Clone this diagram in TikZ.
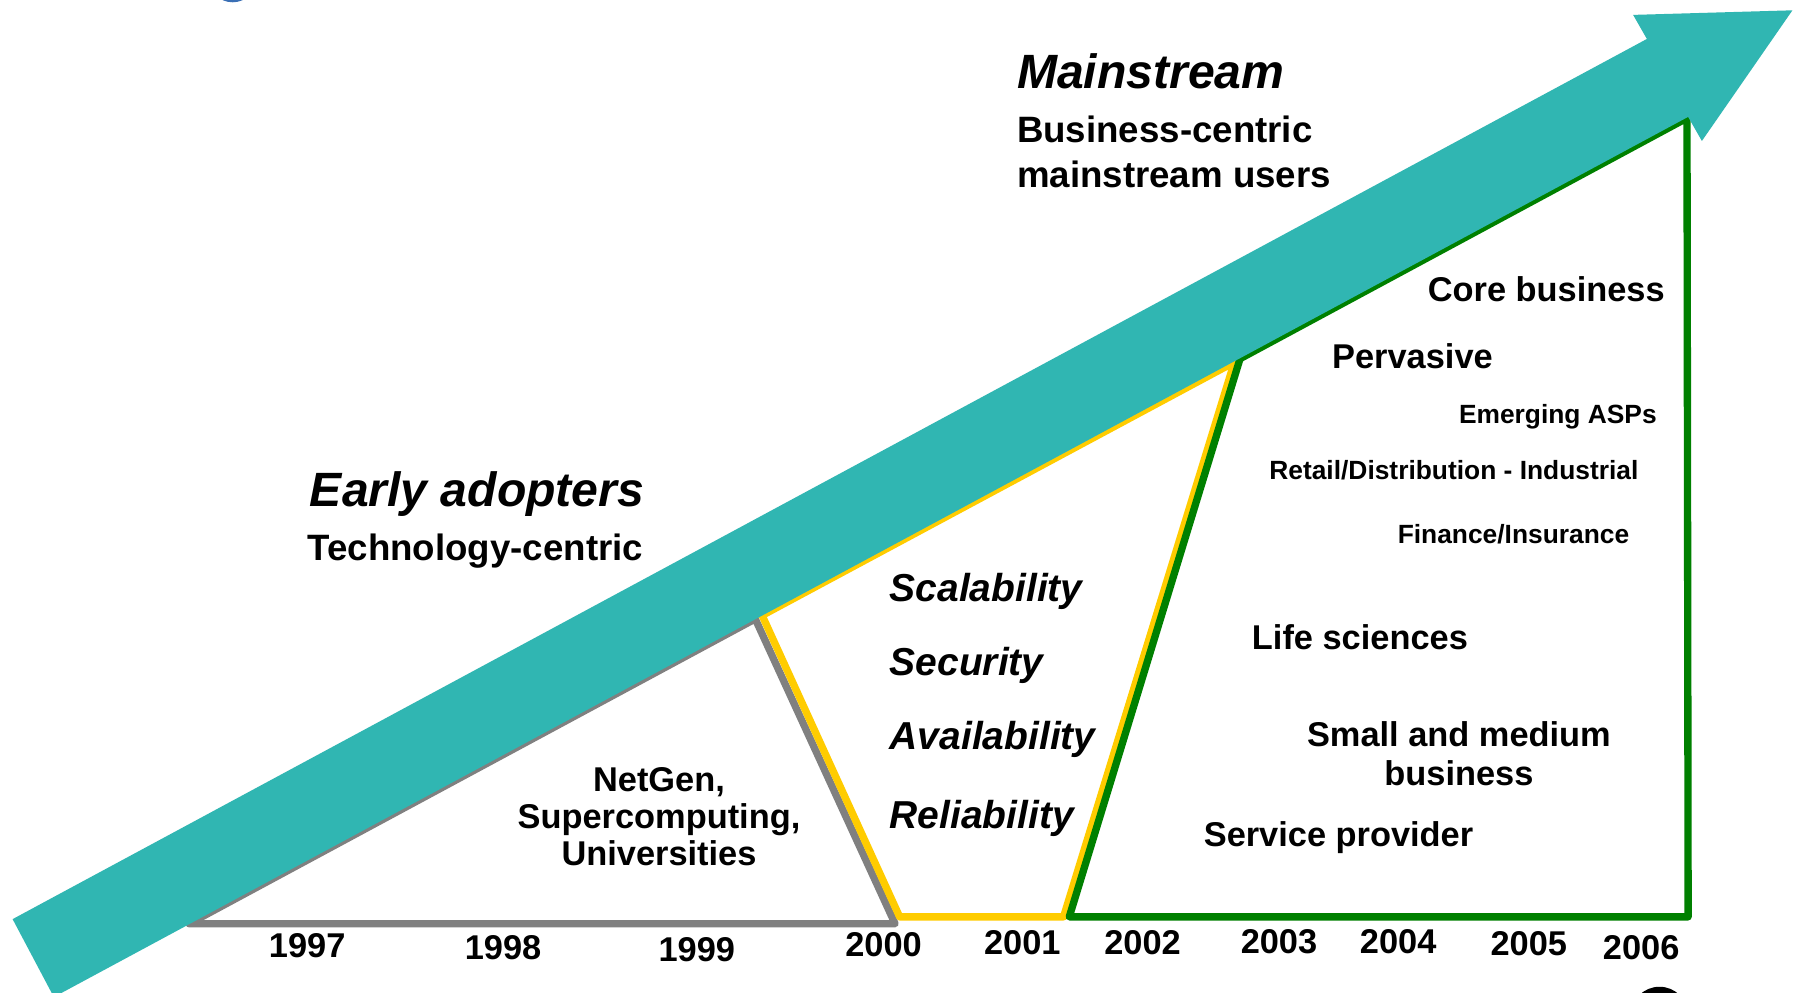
\documentclass[tikz,border=0pt]{standalone}
\usepackage{fontspec}
\setmainfont{Liberation Sans}
\definecolor{arrowteal}{HTML}{30B6B2}
\definecolor{eragray}{HTML}{808080}
\definecolor{erayellow}{HTML}{FFCC00}
\definecolor{eragreen}{HTML}{008000}
\definecolor{dotblue}{HTML}{3A6FB5}
\begin{document}
\begin{tikzpicture}[x=0.5pt,y=-0.5pt,
  txt/.style={inner sep=0pt, text depth=0pt, text=black},
  big/.style={txt, text height=15.1pt, font=\bfseries\itshape\fontsize{21}{25}\selectfont},
  mid/.style={txt, text height=11.5pt, font=\bfseries\fontsize{16}{19}\selectfont},
  reg/.style={txt, text height=10.8pt, font=\bfseries\fontsize{15}{18}\selectfont},
  sml/.style={txt, text height=8.3pt, font=\bfseries\fontsize{11.5}{14}\selectfont},
  qual/.style={txt, text height=12.2pt, font=\bfseries\itshape\fontsize{17}{20}\selectfont},
  yr/.style={txt, text height=10.8pt, font=\bfseries\fontsize{15}{18}\selectfont},
  era/.style={line width=3.2pt, line join=round, line cap=round}]
\useasboundingbox (0,0) rectangle (1568,866);
\fill[white] (0,0) rectangle (1568,866);
\begin{scope}
\clip (0,0) rectangle (1568,866);
% era outlines
\coordinate (g1) at (165,806);
\coordinate (g2) at (659,540);
\coordinate (g3) at (781,806);
\coordinate (y1) at (665,537);
\coordinate (y2) at (1077,316);
\coordinate (y3) at (928,800);
\coordinate (y4) at (785,800);
\coordinate (n1) at (933,800);
\coordinate (n2) at (1082,313);
\coordinate (n3) at (1472,103);
\coordinate (n4) at (1473,800);
\draw[era, draw=eragray] (g1) -- (g2) -- (g3) -- cycle;
\draw[era, draw=erayellow] (y1) -- (y2) -- (y3) -- (y4) -- cycle;
\draw[era, draw=eragreen] (n1) -- (n2) -- (n3) -- (n4) -- cycle;
% big arrow
\coordinate (a1) at (11,802);
\coordinate (a2) at (1437,34);
\coordinate (a3) at (1425,13);
\coordinate (a4) at (1564,9);
\coordinate (a5) at (1485,123);
\coordinate (a6) at (1473,102);
\coordinate (a7) at (47,870);
\fill[arrowteal] (a1) -- (a2) -- (a3) -- (a4) -- (a5) -- (a6) -- (a7) -- cycle;
% cut-off marks at the borders
\fill[dotblue] (203,-19) circle[radius=10.5pt];
\fill[black] (1448,886) circle[radius=12.5pt];
\end{scope}
% texts
\node[big, anchor=west] (mainstream) at (887,62) {Mainstream};
\node[mid, anchor=west] (bc1) at (887,113) {Business-centric};
\node[mid, anchor=west] (bc2) at (887,152) {mainstream users};
\node[big, anchor=west] (early) at (270,427) {Early adopters};
\node[mid, anchor=west] (tech) at (268,478) {Technology-centric};
\node[reg, anchor=east] (core) at (1453,252) {Core business};
\node[reg, anchor=west] (perv) at (1162,311) {Pervasive};
\node[sml, anchor=east] (asps) at (1446,361) {Emerging ASPs};
\node[sml, anchor=east] (retail) at (1430,410) {Retail/Distribution - Industrial};
\node[sml, anchor=east] (fin) at (1422,466) {Finance/Insurance};
\node[reg, anchor=west] (life) at (1092,556) {Life sciences};
\node[reg] (smb1) at (1273,641) {Small and medium};
\node[reg] (smb2) at (1273,675) {business};
\node[reg, anchor=west] (serv) at (1050,728) {Service provider};
\node[reg] (net1) at (575,680) {NetGen,};
\node[reg] (net2) at (575,712) {Supercomputing,};
\node[reg] (net3) at (575,744) {Universities};
\node[qual, anchor=west] (scal) at (776,513) {Scalability};
\node[qual, anchor=west] (sec) at (776,577) {Security};
\node[qual, anchor=west] (avail) at (776,642) {Availability};
\node[qual, anchor=west] (rel) at (776,711) {Reliability};
% years
\node[yr] (y1997) at (268,825) {1997};
\node[yr] (y1998) at (439,826) {1998};
\node[yr] (y1999) at (608,828) {1999};
\node[yr] (y2000) at (771,824) {2000};
\node[yr] (y2001) at (892,822) {2001};
\node[yr] (y2002) at (997,822) {2002};
\node[yr] (y2003) at (1116,821) {2003};
\node[yr] (y2004) at (1220,821) {2004};
\node[yr] (y2005) at (1334,823) {2005};
\node[yr] (y2006) at (1432,826) {2006};
\end{tikzpicture}
\end{document}
